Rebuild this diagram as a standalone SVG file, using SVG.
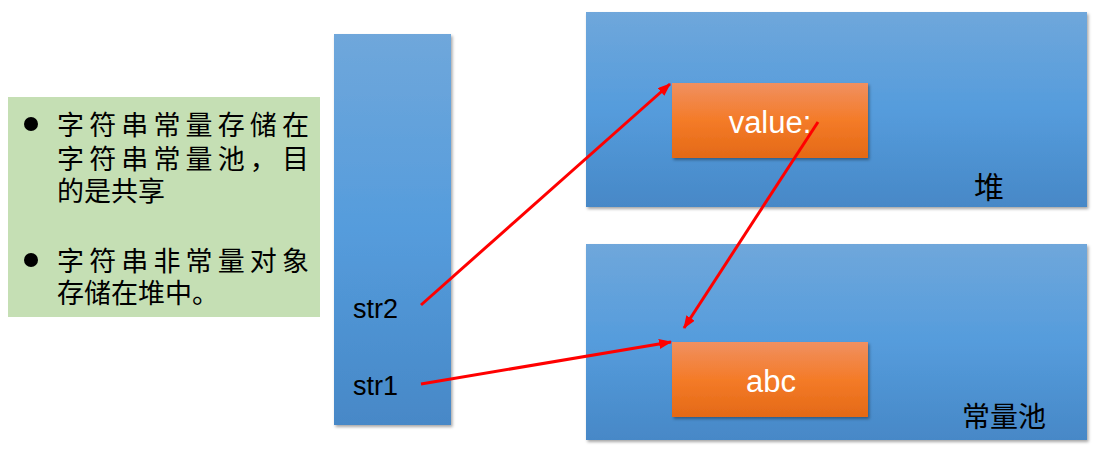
<svg xmlns="http://www.w3.org/2000/svg" width="1098" height="450" viewBox="0 0 1098 450">
<defs>
<linearGradient id="blue" x1="0" y1="0" x2="0" y2="1">
<stop offset="0" stop-color="#6FA7DB"/>
<stop offset="0.5" stop-color="#559CDC"/>
<stop offset="1" stop-color="#4788C7"/>
</linearGradient>
<linearGradient id="orange" x1="0" y1="0" x2="0" y2="1">
<stop offset="0" stop-color="#F09060"/>
<stop offset="0.5" stop-color="#F47B28"/>
<stop offset="1" stop-color="#E46916"/>
</linearGradient>
<filter id="sh" x="-5%" y="-5%" width="115%" height="115%">
<feDropShadow dx="1.5" dy="2" stdDeviation="1.5" flood-color="#000" flood-opacity="0.35"/>
</filter>
<marker id="arr" viewBox="0 0 13 10" refX="12" refY="5" markerWidth="13" markerHeight="10" markerUnits="userSpaceOnUse" orient="auto">
<path d="M0,0 L13,5 L0,10 Z" fill="#FF0000"/>
</marker>
</defs>
<style>
.blue{fill:url(#blue);filter:url(#sh)}
.orange{fill:url(#orange);filter:url(#sh)}
.cjk{font-family:"Liberation Sans","Noto Sans CJK SC",sans-serif;fill:#000}
.lat{font-family:"Liberation Sans",Arial,sans-serif}
.conn{stroke:#FF0000;stroke-width:3;fill:none;marker-end:url(#arr)}
</style>
<rect width="1098" height="450" fill="#FFFFFF"/>
<g id="note">
<rect x="8" y="97" width="312" height="220" fill="#C5DFB4"/>
<circle cx="31" cy="124" r="7" fill="#000"/>
<circle cx="31" cy="260" r="7" fill="#000"/>
<text class="cjk" font-size="27" x="57" y="135" textLength="252" lengthAdjust="spacing">字符串常量存储在</text>
<text class="cjk" font-size="27" x="57" y="169" textLength="252" lengthAdjust="spacing">字符串常量池，目</text>
<text class="cjk" font-size="27" x="57" y="201">的是共享</text>
<text class="cjk" font-size="27" x="57" y="271" textLength="252" lengthAdjust="spacing">字符串非常量对象</text>
<text class="cjk" font-size="27" x="57" y="303">存储在堆中。</text>
</g>
<g id="stack">
<rect class="blue" x="334" y="34" width="117" height="391"/>
<text class="lat" font-size="27" x="353" y="318" fill="#000">str2</text>
<text class="lat" font-size="27" x="353" y="395" fill="#000">str1</text>
</g>
<g id="heap">
<rect class="blue" x="586" y="12" width="501" height="195"/>
<text class="cjk" font-size="30" x="974" y="198">堆</text>
</g>
<g id="pool">
<rect class="blue" x="586" y="244" width="501" height="196"/>
<text class="cjk" font-size="28" x="962" y="427">常量池</text>
</g>
<g id="value">
<rect class="orange" x="672" y="83" width="196" height="75"/>
<text class="lat" font-size="31" x="770" y="133" fill="#FFFFFF" text-anchor="middle">value:</text>
</g>
<g id="abc">
<rect class="orange" x="672" y="342" width="196" height="75"/>
<text class="lat" font-size="31" x="771" y="392" fill="#FFFFFF" text-anchor="middle">abc</text>
</g>
<g id="connectors">
<line class="conn" x1="421" y1="305" x2="670" y2="84"/>
<line class="conn" x1="818" y1="122" x2="684" y2="328"/>
<line class="conn" x1="421" y1="384" x2="671" y2="342"/>
</g>
</svg>
